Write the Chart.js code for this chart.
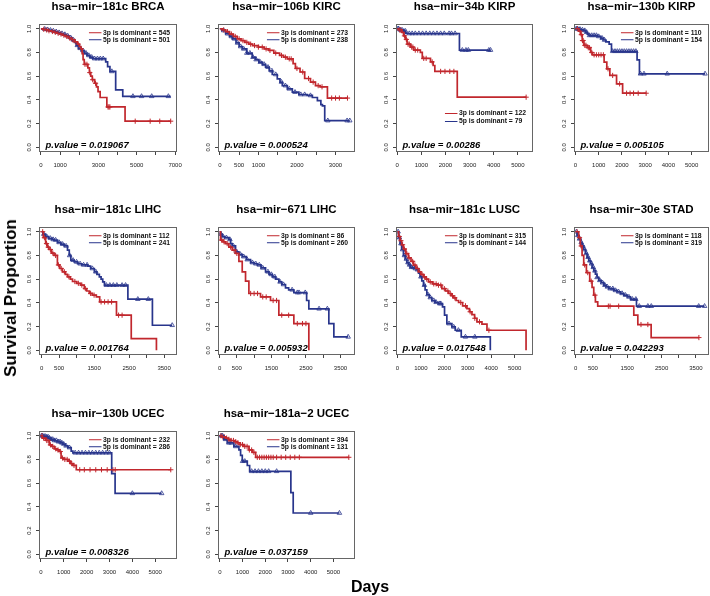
<!DOCTYPE html>
<html><head><meta charset="utf-8">
<script src="https://cdn.jsdelivr.net/npm/chart.js@4/dist/chart.umd.min.js"></script>
<style>
html,body{margin:0;padding:0;background:#fff;}
#wrap{position:relative;width:710px;height:596px;overflow:hidden;background:#fff;}
#wrap canvas{position:absolute;}
.lab{position:absolute;font-family:"Liberation Sans",Arial,Helvetica,sans-serif;font-weight:bold;color:#000;white-space:nowrap;}
</style></head>
<body><div id="wrap"></div>
<script>
// ================= DATA =================
const titles = ['hsa\u2212mir\u2212181c BRCA','hsa\u2212mir\u2212106b KIRC','hsa\u2212mir\u221234b KIRP','hsa\u2212mir\u2212130b KIRP',
  'hsa\u2212mir\u2212181c LIHC','hsa\u2212mir\u2212671 LIHC','hsa\u2212mir\u2212181c LUSC','hsa\u2212mir\u221230e STAD',
  'hsa\u2212mir\u2212130b UCEC','hsa\u2212mir\u2212181a\u22122 UCEC'];
const pValues = ['0.019067','0.000524','0.00286','0.005105','0.001764','0.005932','0.017548','0.042293','0.008326','0.037159'];
const n3p = [545,273,122,110,112,86,315,118,232,394];
const n5p = [501,238,79,154,241,260,144,319,286,131];

// Kaplan-Meier curves: [days, survival]
const brca3p = [[0,1],[100,0.995],[250,0.99],[400,0.983],[550,0.977],[700,0.97],[850,0.962],[1000,0.955],[1150,0.945],[1300,0.935],[1450,0.922],[1600,0.908],[1750,0.89],[1900,0.87],[2000,0.85],[2080,0.83],[2150,0.79],[2200,0.74],[2260,0.70],[2450,0.67],[2530,0.63],[2600,0.60],[2680,0.57],[2800,0.54],[2900,0.51],[2980,0.47],[3090,0.42],[3440,0.34],[4390,0.22],[6770,0.22]];
const brca5p = [[0,1],[100,0.997],[250,0.993],[400,0.988],[550,0.982],[700,0.975],[850,0.968],[1000,0.96],[1150,0.952],[1300,0.94],[1450,0.925],[1600,0.905],[1750,0.885],[1850,0.86],[1950,0.835],[2100,0.815],[2250,0.795],[2400,0.775],[2550,0.76],[2700,0.748],[3380,0.72],[3480,0.68],[3600,0.64],[3900,0.485],[4270,0.43],[6770,0.43]];
const brca3pCens = [150,300,420,600,750,900,1050,1200,1350,1500,1650,1800,1950,2100,2300,2400,2550,2700,2850,3500,3550,3600,4920,5700,6200,6770];
const brca5pCens = [200,350,500,650,800,950,1100,1250,1400,1550,1700,1900,2050,2200,2350,2500,2650,2800,2950,3100,3250,3700,4800,5250,5780,6650];

const kirc3p = [[0,1],[60,0.99],[150,0.975],[250,0.955],[350,0.935],[450,0.915],[550,0.9],[650,0.885],[750,0.87],[850,0.858],[1000,0.845],[1150,0.83],[1270,0.817],[1400,0.795],[1550,0.775],[1650,0.76],[1750,0.746],[1900,0.705],[1960,0.665],[2080,0.635],[2200,0.58],[2350,0.55],[2480,0.52],[2600,0.51],[2790,0.415],[3310,0.415]];
const kirc5p = [[0,1],[50,0.985],[150,0.958],[250,0.935],[320,0.915],[420,0.88],[500,0.85],[580,0.83],[700,0.795],[840,0.76],[930,0.74],[1013,0.718],[1100,0.70],[1186,0.676],[1280,0.645],[1360,0.614],[1490,0.577],[1560,0.55],[1620,0.52],[1750,0.493],[1880,0.465],[2050,0.445],[2270,0.437],[2400,0.42],[2530,0.394],[2620,0.36],[2660,0.35],[2720,0.225],[3370,0.225]];
const kirc3pCens = [100,200,300,400,500,600,700,800,900,1000,1100,1200,1300,1450,1600,1700,1800,1850,2000,2150,2300,2420,2550,2650,2900,3000,3100,3310];
const kirc5pCens = [100,200,300,380,460,540,620,700,780,860,940,1050,1150,1250,1350,1450,1600,1700,1800,1950,2100,2200,2350,2800,3300,3370];

const kirp34b3p = [[0,1],[70,0.99],[200,0.97],[270,0.94],[340,0.91],[410,0.87],[550,0.845],[690,0.82],[960,0.80],[1040,0.75],[1380,0.72],[1490,0.69],[1560,0.64],[2490,0.4225],[5345,0.4225]];
const kirp34b5p = [[0,1],[100,0.99],[250,0.98],[350,0.96],[2580,0.82],[3870,0.82]];
const kirp34b3pCens = [100,150,250,300,380,450,500,600,650,750,850,1100,1200,1450,1800,1980,2180,2350,5345];
const kirp34b5pCens = [30,60,130,200,280,345,500,620,750,900,1050,1200,1350,1500,1650,1800,1950,2150,2250,2400,2700,2850,2950,3800,3870];

const kirp130b3p = [[0,1],[145,0.98],[217,0.95],[290,0.90],[362,0.86],[507,0.84],[652,0.80],[725,0.78],[1232,0.718],[1348,0.662],[1478,0.606],[1768,0.535],[2029,0.456],[3043,0.456]];
const kirp130b5p = [[0,1],[100,0.995],[250,0.99],[362,0.985],[430,0.97],[507,0.955],[580,0.944],[942,0.935],[1087,0.92],[1200,0.905],[1304,0.89],[1449,0.87],[1550,0.81],[2652,0.738],[2754,0.62],[5580,0.62]];
const kirp130b3pCens = [80,200,250,300,330,400,450,550,600,700,800,900,1000,1100,1200,1400,1600,1900,2200,2350,2500,2700,3043];
const kirp130b5pCens = [30,80,150,200,300,400,480,600,700,800,900,1000,1150,1250,1600,1700,1800,1900,2000,2100,2200,2300,2400,2500,2600,2800,2950,3950,5580];

const lihc181c3p = [[0,1],[48,0.95],[115,0.90],[160,0.87],[211,0.85],[280,0.82],[355,0.80],[451,0.72],[520,0.69],[595,0.662],[680,0.64],[739,0.62],[820,0.60],[883,0.58],[1000,0.565],[1123,0.55],[1219,0.52],[1290,0.50],[1363,0.48],[1450,0.465],[1564,0.45],[1660,0.408],[2140,0.296],[2562,0.0986],[3282,0.0]];
const lihc181c5p = [[0,1],[40,0.98],[115,0.958],[200,0.945],[300,0.935],[355,0.93],[450,0.91],[550,0.895],[643,0.88],[739,0.845],[790,0.80],[835,0.76],[930,0.745],[1027,0.73],[1150,0.72],[1315,0.71],[1400,0.69],[1507,0.662],[1580,0.64],[1650,0.62],[1700,0.60],[1747,0.577],[1795,0.549],[2466,0.431],[3167,0.211],[3733,0.211]];
const lihc181c3pCens = [30,80,140,190,250,320,400,480,560,650,780,950,1050,1150,1250,1400,1500,1700,1800,1900,2000,2200,2300];
const lihc181c5pCens = [60,150,250,330,400,500,600,700,800,900,1000,1100,1200,1300,1450,1550,1850,1950,2050,2150,2300,2400,2750,3050,3733];

const lihc671_3p = [[0,1],[29,0.93],[100,0.915],[174,0.90],[270,0.87],[366,0.845],[463,0.817],[560,0.75],[656,0.662],[752,0.583],[849,0.479],[1186,0.45],[1475,0.42],[1716,0.296],[2150,0.225],[2584,0.0]];
const lihc671_5p = [[0,1],[30,0.98],[77,0.96],[150,0.95],[270,0.935],[320,0.90],[366,0.88],[463,0.83],[560,0.81],[656,0.79],[780,0.765],[897,0.74],[1000,0.73],[1090,0.72],[1200,0.695],[1331,0.662],[1430,0.64],[1524,0.62],[1620,0.60],[1716,0.577],[1800,0.555],[1909,0.527],[2000,0.51],[2150,0.487],[2520,0.42],[2584,0.35],[3163,0.225],[3308,0.113],[3722,0.113]];
const lihc671_3pCens = [60,130,220,320,420,500,900,1000,1100,1250,1350,1550,1650,1800,2000,2250,2400,2500];
const lihc671_5pCens = [40,100,200,300,400,500,600,700,800,950,1050,1150,1250,1400,1500,1600,1750,1850,2100,2250,2300,2480,2880,3120,3722];

const lusc3p = [[0,1],[50,0.96],[114,0.924],[180,0.89],[256,0.854],[360,0.815],[470,0.78],[580,0.75],[684,0.718],[790,0.69],[897,0.662],[1000,0.64],[1111,0.62],[1220,0.60],[1325,0.577],[1500,0.56],[1681,0.549],[1895,0.52],[2050,0.50],[2179,0.479],[2290,0.46],[2393,0.442],[2500,0.42],[2607,0.403],[2780,0.375],[2963,0.352],[3070,0.325],[3177,0.30],[3290,0.27],[3390,0.24],[3604,0.22],[3818,0.169],[5484,0.0]];
const lusc5p = [[0,1],[50,0.95],[114,0.90],[180,0.85],[256,0.80],[330,0.77],[399,0.74],[470,0.72],[541,0.70],[700,0.69],[826,0.68],[900,0.65],[969,0.62],[1040,0.585],[1111,0.549],[1180,0.51],[1254,0.47],[1360,0.445],[1467,0.42],[1600,0.405],[1752,0.394],[1923,0.366],[2009,0.296],[2108,0.225],[2322,0.197],[2464,0.169],[2721,0.113],[3960,0.0]];
const lusc3pCens = [80,150,220,300,400,500,650,750,850,950,1050,1150,1250,1400,1550,1650,1750,1850,2000,2150,2250,2350,2450,2700,2900,3100,3300,3500,3900];
const lusc5pCens = [30,90,150,220,300,380,450,520,600,680,760,850,1000,1150,1300,1400,1550,1650,1800,1850,2200,2400,2600,2900,3300];

const stad3p = [[0,1],[87,0.95],[136,0.88],[185,0.80],[233,0.72],[311,0.655],[408,0.583],[476,0.53],[525,0.465],[573,0.408],[641,0.372],[1691,0.296],[1808,0.217],[2196,0.107],[3586,0.107]];
const stad5p = [[0,1],[40,0.97],[87,0.94],[140,0.91],[185,0.88],[235,0.85],[282,0.817],[330,0.785],[379,0.755],[430,0.73],[476,0.70],[525,0.67],[573,0.642],[620,0.615],[671,0.59],[740,0.57],[816,0.549],[890,0.535],[962,0.52],[1100,0.505],[1205,0.493],[1300,0.48],[1399,0.465],[1500,0.45],[1594,0.431],[1769,0.372],[3751,0.372]];
const stad3pCens = [40,110,160,260,350,450,560,950,1000,1250,1900,2100,3586];
const stad5pCens = [20,60,110,160,210,260,310,360,410,460,510,560,620,700,780,850,920,1000,1080,1160,1250,1350,1450,1550,1650,1750,1850,2100,2200,3580,3751];

const ucec130b3p = [[0,1],[74,0.98],[221,0.96],[369,0.923],[480,0.91],[590,0.89],[700,0.88],[811,0.867],[885,0.812],[1000,0.80],[1180,0.785],[1300,0.765],[1401,0.75],[1549,0.713],[5678,0.713]];
const ucec130b5p = [[0,1],[100,0.995],[221,0.99],[330,0.98],[442,0.97],[590,0.96],[737,0.95],[850,0.94],[959,0.93],[1070,0.915],[1180,0.90],[1327,0.87],[1401,0.856],[3097,0.68],[3245,0.514],[5280,0.514]];
const ucec130b3pCens = [50,120,180,260,320,420,520,650,750,850,950,1050,1150,1250,1350,1450,1700,1900,2150,2400,2650,2900,3150,3250,5678];
const ucec130b5pCens = [30,80,150,200,260,320,380,450,520,600,680,760,840,920,1000,1100,1250,1500,1650,1800,1950,2100,2250,2400,2550,2700,2850,3000,4000,5280];

const ucec181a3p = [[0,1],[100,0.99],[251,0.98],[360,0.97],[472,0.96],[620,0.95],[767,0.94],[900,0.925],[1062,0.91],[1283,0.88],[1431,0.86],[1578,0.818],[5678,0.818]];
const ucec181a5p = [[0,1],[177,0.97],[324,0.94],[619,0.91],[841,0.88],[914,0.834],[988,0.785],[1209,0.749],[1313,0.70],[3127,0.52],[3230,0.348],[5265,0.348]];
const ucec181a3pCens = [50,130,200,300,400,500,600,700,800,900,1000,1100,1200,1300,1400,1500,1650,1750,1850,1950,2050,2150,2250,2350,2500,2700,2900,3100,3300,3500,5678];
const ucec181a5pCens = [60,120,250,400,500,700,1000,1100,1400,1550,1700,1850,2000,2150,2500,4000,5265];

// tick values and the ones that carry a printed label
const xTicks7000 = [0,1000,2000,3000,4000,5000,6000,7000];
const xLabels7000 = [0,1000,3000,5000,7000];
const xTicks3000 = [0,500,1000,1500,2000,2500,3000];
const xLabels3000 = [0,500,1000,2000,3000];
const xTicks5000 = [0,1000,2000,3000,4000,5000];
const xLabels5000 = [0,1000,2000,3000,4000,5000];
const xTicks3500 = [0,500,1000,1500,2000,2500,3000,3500];
const xLabels3500 = [0,500,1500,2500,3500];
const yTicks = [0,0.2,0.4,0.6,0.8,1.0];

const panelCurves = [
  [brca3p, brca5p, brca3pCens, brca5pCens, xTicks7000, xLabels7000],
  [kirc3p, kirc5p, kirc3pCens, kirc5pCens, xTicks3000, xLabels3000],
  [kirp34b3p, kirp34b5p, kirp34b3pCens, kirp34b5pCens, xTicks5000, xLabels5000],
  [kirp130b3p, kirp130b5p, kirp130b3pCens, kirp130b5pCens, xTicks5000, xLabels5000],
  [lihc181c3p, lihc181c5p, lihc181c3pCens, lihc181c5pCens, xTicks3500, xLabels3500],
  [lihc671_3p, lihc671_5p, lihc671_3pCens, lihc671_5pCens, xTicks3500, xLabels3500],
  [lusc3p, lusc5p, lusc3pCens, lusc5pCens, xTicks5000, xLabels5000],
  [stad3p, stad5p, stad3pCens, stad5pCens, xTicks3500, xLabels3500],
  [ucec130b3p, ucec130b5p, ucec130b3pCens, ucec130b5pCens, xTicks5000, xLabels5000],
  [ucec181a3p, ucec181a5p, ucec181a3pCens, ucec181a5pCens, xTicks5000, xLabels5000]
];

// ================= LAYOUT / STYLE =================
const RED = '#C1272D', BLUE = '#28358C';
const FONT = '"Liberation Sans", Arial, Helvetica, sans-serif';
const colL = [39, 218, 396, 574];
const colW = [138, 137, 137, 135];
const rowT = [24, 227, 431];
const BOX_H = 128, TITLE_H = 30, XAXIS_H = 22, SIDE = 32;
const xRange = [[-100,7100],[-47,3505],[-50,5630],[-65,5750],[-75,3870],[-45,3920],[-60,5780],[-50,3880],[-80,5950],[-80,5950]];
const legendAtBottom = [false,false,true,false,false,false,false,false,false,false];

function survAt(curve, t) {
  let s = curve[0][1];
  for (const p of curve) { if (p[0] <= t) s = p[1]; else break; }
  return s;
}

const kmDecor = {
  id: 'kmDecor',
  afterDatasetsDraw(chart, args, o) {
    const {ctx, chartArea: a, scales: {y}} = chart;
    ctx.save();
    ctx.strokeStyle = '#666'; ctx.lineWidth = 1;
    ctx.strokeRect(a.left + 0.5, a.top + 0.5, a.width - 1, a.height - 1);
    ctx.font = 'bold 6.8px ' + FONT;
    ctx.textBaseline = 'middle'; ctx.textAlign = 'left';
    const items = [[RED, '3p is dominant = ' + o.n3], [BLUE, '5p is dominant = ' + o.n5]];
    const tw = Math.max(...items.map(i => ctx.measureText(i[1]).width));
    const tx = a.right - 7 - tw;
    const y1 = y.getPixelForValue(1);
    const ys = o.bottom ? [a.bottom - 38.5, a.bottom - 30.5] : [y1 + 4, y1 + 11];
    items.forEach((it, k) => {
      ctx.strokeStyle = it[0]; ctx.lineWidth = 1;
      ctx.beginPath(); ctx.moveTo(tx - 14, ys[k]); ctx.lineTo(tx - 1.5, ys[k]); ctx.stroke();
      ctx.fillStyle = '#111'; ctx.fillText(it[1], tx, ys[k]);
    });
    ctx.font = 'bold italic 9.5px ' + FONT;
    ctx.textBaseline = 'alphabetic';
    ctx.fillStyle = '#000';
    ctx.fillText('p.value = ' + o.p, a.left + 6.5, y.getPixelForValue(0) + 0.5);
    ctx.restore();
  }
};

const wrap = document.getElementById('wrap');

panelCurves.forEach((pc, i) => {
  const [red, blue, redC, blueC, xt, xl] = pc;
  const col = i % 4, row = Math.floor(i / 4);
  const L = colL[col], W = colW[col], T = rowT[row];
  const cv = document.createElement('canvas');
  cv.width = W + 2 * SIDE; cv.height = TITLE_H + BOX_H + XAXIS_H;
  cv.style.left = (L - SIDE) + 'px'; cv.style.top = (T - TITLE_H) + 'px';
  cv.style.width = cv.width + 'px'; cv.style.height = cv.height + 'px';
  wrap.appendChild(cv);

  new Chart(cv, {
    type: 'line',
    data: {
      datasets: [
        { data: red.map(p => ({x: p[0], y: p[1]})), stepped: true, borderColor: RED, borderWidth: 1.7, pointRadius: 0, fill: false },
        { data: blue.map(p => ({x: p[0], y: p[1]})), stepped: true, borderColor: BLUE, borderWidth: 1.7, pointRadius: 0, fill: false },
        { data: redC.map(t => ({x: t, y: survAt(red, t)})), showLine: false, pointStyle: 'cross', pointRadius: 2.6,
          pointBorderWidth: 1, pointBorderColor: RED, pointBackgroundColor: RED },
        { data: blueC.map(t => ({x: t, y: survAt(blue, t)})), showLine: false, pointStyle: 'triangle', pointRadius: 2.6,
          pointBorderWidth: 0.8, pointBorderColor: BLUE, pointBackgroundColor: 'rgba(0,0,0,0)' }
      ]
    },
    options: {
      responsive: false, maintainAspectRatio: false, animation: false, devicePixelRatio: 1,
      events: [],
      layout: { padding: 0 },
      plugins: {
        legend: { display: false }, tooltip: { enabled: false },
        title: { display: true, text: titles[i], color: '#000',
          font: { size: 11.5, weight: 'bold', family: FONT, lineHeight: 1.2 },
          padding: { top: 6.1, bottom: 10.1 } },
        kmDecor: { n3: n3p[i], n5: n5p[i], p: pValues[i], bottom: legendAtBottom[i] }
      },
      scales: {
        x: {
          type: 'linear', position: 'bottom', min: xRange[i][0], max: xRange[i][1],
          afterBuildTicks: s => { s.ticks = xt.map(v => ({value: v})); },
          afterFit: s => { s.height = XAXIS_H; },
          ticks: { autoSkip: false, maxRotation: 0, minRotation: 0, padding: 7, color: '#222',
            font: { size: 6, family: FONT, lineHeight: 1.2 },
            callback: v => xl.includes(v) ? String(v) : '' },
          grid: { drawOnChartArea: false, drawTicks: true, tickLength: 3, color: '#444', lineWidth: 1 },
          border: { display: false }
        },
        y: {
          type: 'linear', position: 'left', min: -0.04, max: 1.04,
          afterBuildTicks: s => { s.ticks = yTicks.map(v => ({value: v})); },
          afterFit: s => { s.width = SIDE; },
          ticks: { autoSkip: false, minRotation: 90, maxRotation: 90, crossAlign: 'center', padding: 2, color: '#222',
            font: { size: 6, family: FONT, lineHeight: 1.2 },
            callback: v => Number(v).toFixed(1) },
          grid: { drawOnChartArea: false, drawTicks: true, tickLength: 3, color: '#444', lineWidth: 1 },
          border: { display: false }
        },
        yRightSpace: {
          type: 'linear', position: 'right', display: true, min: 0, max: 1,
          afterFit: s => { s.width = SIDE; },
          ticks: { display: false }, grid: { display: false }, border: { display: false }
        }
      }
    },
    plugins: [kmDecor]
  });
});

// outer axis titles
const yl = document.createElement('div');
yl.className = 'lab'; yl.textContent = 'Survival Proportion';
yl.style.fontSize = '17px'; yl.style.left = '11px'; yl.style.top = '298px';
yl.style.transform = 'translate(-50%,-50%) rotate(-90deg)';
wrap.appendChild(yl);
const xlab = document.createElement('div');
xlab.className = 'lab'; xlab.textContent = 'Days';
xlab.style.fontSize = '16px'; xlab.style.left = '370px'; xlab.style.top = '587px';
xlab.style.transform = 'translate(-50%,-50%)';
wrap.appendChild(xlab);
</script>
</body></html>
